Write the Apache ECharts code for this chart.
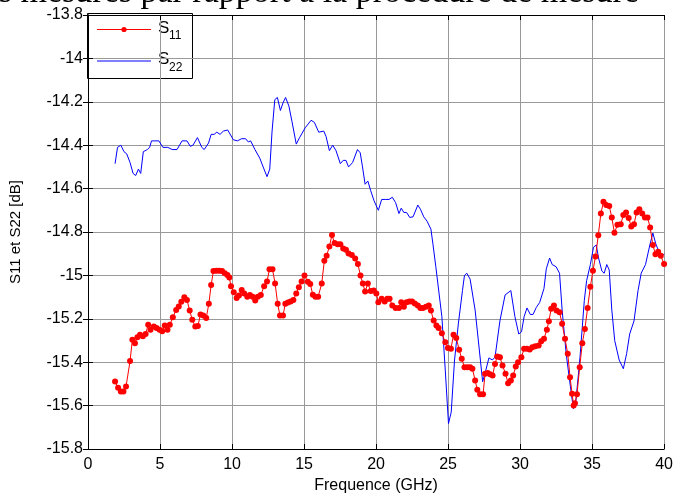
<!DOCTYPE html>
<html>
<head>
<meta charset="utf-8">
<script src="https://cdn.jsdelivr.net/npm/echarts@6/dist/echarts.min.js"></script>
<style>html,body{margin:0;padding:0;background:#fff}#c{width:676px;height:500px}</style>
</head>
<body>
<div id="c"></div>
<script>
// ---- data ----
var titleText = "Paramètres mesurés par rapport à la procédure de mesure";
var xTicks = [0, 5, 10, 15, 20, 25, 30, 35, 40];
var yTicks = [-15.8, -15.6, -15.4, -15.2, -15, -14.8, -14.6, -14.4, -14.2, -14, -13.8];
var seriesNames = ["S11", "S22"];
var legendSubs = ["11", "22"];

var freqS11 = [1.88,2.09,2.28,2.46,2.64,2.92,3.08,3.26,3.43,3.61,3.81,4.0,4.18,4.34,4.57,4.76,4.97,5.15,5.33,5.52,5.68,5.89,6.12,6.3,6.48,6.69,6.87,7.06,7.24,7.45,7.63,7.81,8.0,8.21,8.39,8.55,8.71,8.92,9.12,9.31,9.5,9.68,9.81,9.93,10.12,10.32,10.48,10.67,10.85,11.06,11.24,11.43,11.61,11.79,12.0,12.23,12.43,12.6,12.81,12.99,13.17,13.33,13.54,13.7,13.88,14.07,14.26,14.46,14.64,14.83,15.03,15.26,15.43,15.61,15.79,15.98,16.23,16.41,16.57,16.76,16.94,17.12,17.33,17.52,17.72,17.91,18.09,18.32,18.55,18.74,18.92,19.08,19.24,19.43,19.63,19.84,20.02,20.16,20.39,20.6,20.78,20.94,21.13,21.36,21.59,21.75,21.93,22.12,22.32,22.5,22.69,22.9,23.08,23.26,23.47,23.66,23.81,24.0,24.19,24.34,24.57,24.81,24.99,25.2,25.38,25.57,25.77,25.95,26.14,26.34,26.53,26.69,26.88,27.03,27.22,27.43,27.57,27.75,27.91,28.09,28.26,28.41,28.6,28.78,28.99,29.17,29.36,29.52,29.7,29.86,30.09,30.28,30.48,30.67,30.85,31.06,31.29,31.47,31.66,31.86,32.0,32.16,32.35,32.53,32.74,32.92,33.12,33.31,33.47,33.61,33.72,33.81,33.95,34.14,34.32,34.5,34.69,34.88,35.06,35.24,35.43,35.61,35.79,35.98,36.19,36.37,36.55,36.76,36.99,37.17,37.36,37.54,37.72,37.91,38.09,38.28,38.48,38.67,38.85,39.03,39.22,39.4,39.59,39.77,40.0];
var s11 = [-15.489,-15.518,-15.535,-15.535,-15.512,-15.395,-15.296,-15.313,-15.285,-15.274,-15.28,-15.27,-15.227,-15.25,-15.236,-15.242,-15.251,-15.257,-15.231,-15.25,-15.227,-15.193,-15.159,-15.143,-15.121,-15.101,-15.113,-15.162,-15.204,-15.236,-15.233,-15.18,-15.185,-15.196,-15.131,-15.044,-14.98,-14.978,-14.978,-14.98,-14.99,-14.998,-15.01,-15.05,-15.078,-15.104,-15.093,-15.067,-15.083,-15.098,-15.09,-15.098,-15.116,-15.098,-15.09,-15.05,-15.028,-14.972,-14.972,-15.037,-15.131,-15.185,-15.185,-15.131,-15.125,-15.12,-15.113,-15.083,-15.055,-15.028,-15.001,-15.029,-15.04,-15.089,-15.098,-15.098,-15.037,-14.932,-14.909,-14.867,-14.814,-14.851,-14.856,-14.856,-14.876,-14.882,-14.899,-14.906,-14.922,-14.948,-15.001,-15.037,-15.074,-15.037,-15.072,-15.07,-15.083,-15.124,-15.108,-15.12,-15.108,-15.108,-15.139,-15.15,-15.15,-15.124,-15.144,-15.124,-15.12,-15.12,-15.129,-15.139,-15.15,-15.15,-15.144,-15.139,-15.162,-15.208,-15.231,-15.242,-15.267,-15.308,-15.334,-15.338,-15.273,-15.288,-15.343,-15.384,-15.423,-15.423,-15.423,-15.43,-15.484,-15.527,-15.548,-15.548,-15.453,-15.45,-15.456,-15.461,-15.408,-15.374,-15.377,-15.415,-15.453,-15.497,-15.484,-15.461,-15.42,-15.4,-15.377,-15.338,-15.338,-15.342,-15.331,-15.327,-15.323,-15.303,-15.292,-15.25,-15.211,-15.154,-15.139,-15.162,-15.17,-15.223,-15.292,-15.361,-15.469,-15.545,-15.599,-15.589,-15.548,-15.423,-15.313,-15.247,-15.15,-15.052,-14.978,-14.913,-14.815,-14.715,-14.661,-14.675,-14.68,-14.733,-14.804,-14.767,-14.764,-14.722,-14.71,-14.736,-14.775,-14.764,-14.71,-14.695,-14.715,-14.733,-14.733,-14.779,-14.86,-14.902,-14.891,-14.91,-14.948];

var freqS22 = [1.88,2.05,2.28,2.5,2.69,2.92,3.13,3.31,3.5,3.66,3.84,4.12,4.28,4.41,4.57,4.92,5.2,5.54,5.84,6.18,6.53,6.87,7.1,7.29,7.6,7.9,8.07,8.37,8.55,8.76,8.94,9.17,9.4,9.7,10.09,10.37,10.67,10.94,11.13,11.29,11.59,11.93,12.16,12.43,12.62,12.78,12.97,13.15,13.36,13.54,13.72,13.95,14.16,14.46,14.69,15.08,15.49,15.72,16.02,16.37,16.53,16.76,16.99,17.22,17.52,17.72,17.91,18.09,18.37,18.71,18.9,19.06,19.24,19.43,19.63,19.86,20.16,20.39,20.67,20.9,21.13,21.36,21.59,21.75,21.93,22.12,22.34,22.57,22.9,23.08,23.31,23.54,23.81,23.95,24.15,24.57,24.81,25.03,25.22,25.45,25.72,26.0,26.14,26.3,26.53,26.88,27.15,27.4,27.61,27.84,28.07,28.26,28.6,28.96,29.36,29.64,29.91,30.1,30.28,30.48,30.71,30.9,31.13,31.36,31.66,31.82,32.05,32.23,32.5,32.74,32.92,33.2,33.43,33.7,33.88,34.16,34.46,34.62,34.88,35.1,35.29,35.45,35.68,35.84,36.02,36.19,36.37,36.57,36.88,37.17,37.4,37.61,37.91,38.19,38.41,38.71,39.01,39.22,39.43,39.66,39.86,40.0];
var s22 = [-14.485,-14.41,-14.4,-14.43,-14.44,-14.48,-14.53,-14.54,-14.51,-14.53,-14.43,-14.42,-14.41,-14.38,-14.38,-14.38,-14.41,-14.41,-14.42,-14.42,-14.38,-14.38,-14.405,-14.4,-14.365,-14.41,-14.42,-14.39,-14.35,-14.35,-14.34,-14.35,-14.335,-14.33,-14.375,-14.38,-14.37,-14.37,-14.385,-14.38,-14.42,-14.46,-14.5,-14.545,-14.51,-14.335,-14.19,-14.18,-14.24,-14.205,-14.18,-14.22,-14.29,-14.395,-14.365,-14.32,-14.285,-14.295,-14.34,-14.335,-14.36,-14.425,-14.4,-14.425,-14.485,-14.47,-14.47,-14.5,-14.48,-14.42,-14.435,-14.5,-14.58,-14.565,-14.61,-14.656,-14.7,-14.65,-14.65,-14.65,-14.64,-14.665,-14.715,-14.69,-14.71,-14.71,-14.733,-14.73,-14.676,-14.695,-14.73,-14.75,-14.787,-14.856,-14.96,-15.19,-15.44,-15.683,-15.63,-15.39,-15.22,-15.07,-15.0,-14.99,-15.017,-15.16,-15.33,-15.49,-15.44,-15.38,-15.39,-15.377,-15.21,-15.09,-15.07,-15.19,-15.27,-15.26,-15.19,-15.15,-15.18,-15.18,-15.147,-15.125,-15.06,-14.97,-14.92,-14.95,-14.96,-14.99,-15.16,-15.36,-15.48,-15.614,-15.576,-15.377,-15.116,-15.024,-14.95,-14.87,-14.86,-14.92,-14.98,-14.99,-14.95,-14.975,-15.16,-15.3,-15.39,-15.43,-15.36,-15.27,-15.21,-15.07,-14.99,-14.95,-14.86,-14.805,-14.856,-14.894,-14.91,-14.9];

// ---- build ----
function pairs(xs, ys) { return xs.map(function (x, i) { return [x, ys[i]]; }); }
var FONT = "'Liberation Sans', Arial, sans-serif";
var TITLE_FONT = "34px 'Liberation Serif', 'Times New Roman', serif";
var RED = '#ff0000', BLUE = '#0000ff';
// place the (clipped) title so that the word "par" starts near x = 140
var mctx = document.createElement('canvas').getContext('2d');
mctx.font = TITLE_FONT;
var titleLeft = Math.round(140 - mctx.measureText(titleText.slice(0, titleText.indexOf(' par ') + 1)).width);

var chart = echarts.init(document.getElementById('c'), null, { renderer: 'canvas' });
var xmin = xTicks[0], xmax = xTicks[xTicks.length - 1], xint = xTicks[1] - xTicks[0];
var ymin = yTicks[0], ymax = yTicks[yTicks.length - 1], yint = 0.2;
function yfmt(v) { return String(Number(v.toFixed(1))); }
var tickStyle = { show: true, inside: true, length: 5, lineStyle: { color: '#000', width: 1 } };

// legend drawn as a boxed key (MATLAB style)
var legendGraphic = {
  type: 'group', left: 87, top: 13, z: 100, silent: true,
  children: [
    { type: 'rect', shape: { x: 0.5, y: 0.5, width: 105, height: 65 }, style: { fill: '#fff', stroke: '#000', lineWidth: 1 } },
    { type: 'line', shape: { x1: 10, y1: 16.5, x2: 64, y2: 16.5 }, style: { stroke: RED, lineWidth: 1 } },
    { type: 'circle', shape: { cx: 37, cy: 16.5, r: 2.6 }, style: { fill: RED } },
    { type: 'text', x: 71, y: 15, style: { text: 'S', font: "17px 'Liberation Sans', Arial, sans-serif", fill: '#000', verticalAlign: 'middle' } },
    { type: 'text', x: 82, y: 23, style: { text: legendSubs[0], font: "12px 'Liberation Sans', Arial, sans-serif", fill: '#000', verticalAlign: 'middle' } },
    { type: 'line', shape: { x1: 10, y1: 48, x2: 64, y2: 48 }, style: { stroke: BLUE, lineWidth: 1.2 } },
    { type: 'text', x: 71, y: 46, style: { text: 'S', font: "17px 'Liberation Sans', Arial, sans-serif", fill: '#000', verticalAlign: 'middle' } },
    { type: 'text', x: 82, y: 55, style: { text: legendSubs[1], font: "12px 'Liberation Sans', Arial, sans-serif", fill: '#000', verticalAlign: 'middle' } }
  ]
};

chart.setOption({
  animation: false,
  backgroundColor: '#fff',
  graphic: [{
    type: 'text', left: titleLeft, top: -24, silent: true,
    style: { text: titleText, font: TITLE_FONT, fill: '#000' }
  }, legendGraphic],
  grid: { left: 88, right: 8, top: 15, bottom: 51, show: false },
  xAxis: [{
    type: 'value', min: xmin, max: xmax, interval: xint, position: 'bottom',
    name: 'Frequence (GHz)', nameLocation: 'middle', nameGap: 29,
    nameTextStyle: { fontFamily: FONT, fontSize: 16, color: '#000' },
    axisLine: { show: true, lineStyle: { color: '#000', width: 1 } },
    axisTick: tickStyle,
    axisLabel: { fontFamily: FONT, fontSize: 16, color: '#000', margin: 8 },
    splitLine: { show: true, lineStyle: { color: '#999', width: 1 } }
  }, {
    type: 'value', min: xmin, max: xmax, interval: xint, position: 'top',
    axisLine: { show: true, lineStyle: { color: '#000', width: 1 } },
    axisTick: tickStyle, axisLabel: { show: false }, splitLine: { show: false }
  }],
  yAxis: [{
    type: 'value', min: ymin, max: ymax, interval: yint, position: 'left',
    name: 'S11 et S22 [dB]', nameLocation: 'middle', nameGap: 65, nameRotate: 90,
    nameTextStyle: { fontFamily: FONT, fontSize: 15, color: '#000' },
    axisLine: { show: true, lineStyle: { color: '#000', width: 1 } },
    axisTick: tickStyle,
    axisLabel: { fontFamily: FONT, fontSize: 16, color: '#000', margin: 5, formatter: yfmt },
    splitLine: { show: true, lineStyle: { color: '#999', width: 1 } }
  }, {
    type: 'value', min: ymin, max: ymax, interval: yint, position: 'right',
    axisLine: { show: true, lineStyle: { color: '#000', width: 1 } },
    axisTick: tickStyle, axisLabel: { show: false }, splitLine: { show: false }
  }],
  series: [{
    name: seriesNames[0], type: 'line', data: pairs(freqS11, s11),
    symbol: 'circle', symbolSize: 6, showSymbol: true,
    lineStyle: { color: RED, width: 1 }, itemStyle: { color: RED }, z: 3
  }, {
    name: seriesNames[1], type: 'line', data: pairs(freqS22, s22),
    symbol: 'none', showSymbol: false,
    lineStyle: { color: BLUE, width: 1 }, itemStyle: { color: BLUE }, z: 2
  }]
});
</script>
</body>
</html>
